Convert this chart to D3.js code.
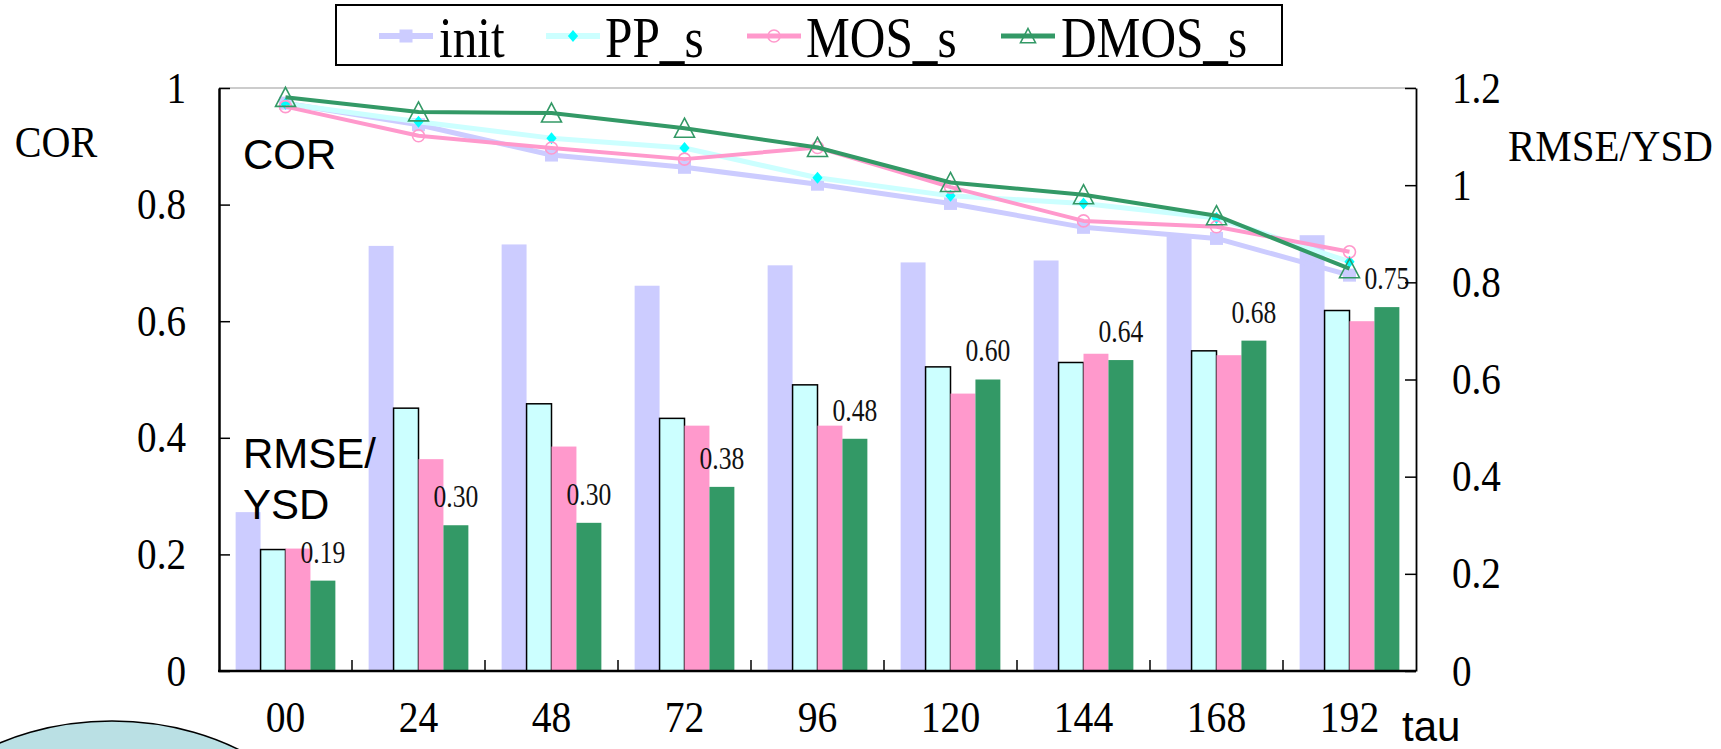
<!DOCTYPE html>
<html>
<head>
<meta charset="utf-8">
<script src="https://cdn.jsdelivr.net/npm/d3@7"></script>
<style>
  html, body { margin: 0; padding: 0; background: #ffffff; }
  svg { display: block; }
</style>
</head>
<body>
<script>
// ---------------- DATA ----------------
const categories = ["00", "24", "48", "72", "96", "120", "144", "168", "192"];
const seriesNames = ["init", "PP_s", "MOS_s", "DMOS_s"];

// RMSE/YSD bars (right axis)
const rmseInit = [0.327, 0.875, 0.878, 0.793, 0.835, 0.841, 0.845, 0.895, 0.897];
const rmsePP   = [0.250, 0.541, 0.550, 0.520, 0.589, 0.626, 0.635, 0.659, 0.742];
const rmseMOS  = [0.252, 0.436, 0.462, 0.505, 0.505, 0.571, 0.653, 0.650, 0.720];
const rmseDMOS = [0.186, 0.300, 0.305, 0.379, 0.478, 0.600, 0.640, 0.680, 0.749];
const dmosLabels = ["0.19", "0.30", "0.30", "0.38", "0.48", "0.60", "0.64", "0.68", "0.75"];

// COR lines (left axis)
const corInit = [0.974, 0.937, 0.885, 0.864, 0.835, 0.802, 0.761, 0.742, 0.679];
const corPP   = [0.973, 0.942, 0.914, 0.897, 0.846, 0.815, 0.802, 0.777, 0.702];
const corMOS  = [0.968, 0.918, 0.897, 0.878, 0.898, 0.830, 0.772, 0.762, 0.719];
const corDMOS = [0.984, 0.959, 0.957, 0.931, 0.898, 0.838, 0.817, 0.781, 0.690];

const corTicks = [0, 0.2, 0.4, 0.6, 0.8, 1];
const corTickLabels = ["0", "0.2", "0.4", "0.6", "0.8", "1"];
const rmseTicks = [0, 0.2, 0.4, 0.6, 0.8, 1, 1.2];
const rmseTickLabels = ["0", "0.2", "0.4", "0.6", "0.8", "1", "1.2"];

// ---------------- STYLE ----------------
const W = 1721, H = 749;
const plot = { left: 219, right: 1416, top: 88, bottom: 671 };
const serif = "'Liberation Serif', 'DejaVu Serif', serif";
const sans = "'Liberation Sans', Arial, sans-serif";
const colors = { init: "#CCCCFF", PP_s: "#CCFFFF", MOS_s: "#FF99CC", DMOS_s: "#339966" };
const markerColors = { init: "#CCCCFF", PP_s: "#00FFFF", MOS_s: "#FF99CC", DMOS_s: "#339966" };
const lineWidths = { init: 5, PP_s: 5, MOS_s: 4, DMOS_s: 4 };

const barData = { init: rmseInit, PP_s: rmsePP, MOS_s: rmseMOS, DMOS_s: rmseDMOS };
const lineData = { init: corInit, PP_s: corPP, MOS_s: corMOS, DMOS_s: corDMOS };

function squeeze(sel, sx) {
  sel.each(function () {
    const t = d3.select(this);
    const xx = +t.attr("x") || 0;
    t.attr("transform", `translate(${xx},0) scale(${sx},1) translate(${-xx},0)`);
  });
}

const svg = d3.select("body").append("svg").attr("width", W).attr("height", H);

// decorative shape bottom-left
svg.append("ellipse")
  .attr("cx", 112).attr("cy", 881).attr("rx", 222).attr("ry", 160)
  .attr("fill", "#BAE0E4").attr("stroke", "#000").attr("stroke-width", 1.5);

// ---------------- SCALES ----------------
const x = d3.scaleBand().domain(categories).range([plot.left, plot.right]);
const xs = d3.scaleBand().domain(seriesNames).range([0, x.bandwidth()])
  .paddingInner(0).paddingOuter(0.667);
const yL = d3.scaleLinear().domain([0, 1]).range([plot.bottom, plot.top]);
const yR = d3.scaleLinear().domain([0, 1.2]).range([plot.bottom, plot.top]);

// top border
svg.append("line")
  .attr("x1", plot.left).attr("x2", plot.right)
  .attr("y1", plot.top).attr("y2", plot.top)
  .attr("stroke", "#999").attr("stroke-width", 1.2);

// ---------------- BARS ----------------
seriesNames.forEach(s => {
  const data = categories.map((c, i) => ({ c, v: barData[s][i] }));
  svg.append("g").selectAll("rect").data(data).join("rect")
    .attr("x", d => x(d.c) + xs(s))
    .attr("y", d => yR(d.v))
    .attr("width", xs.bandwidth())
    .attr("height", d => yR(0) - yR(d.v))
    .attr("fill", colors[s])
    .attr("stroke", s === "PP_s" ? "#000" : "none")
    .attr("stroke-width", s === "PP_s" ? 1.5 : 0);
});

// DMOS value labels
const lbl = svg.append("g").selectAll("text")
  .data(categories.map((c, i) => ({ c, v: rmseDMOS[i], t: dmosLabels[i] })))
  .join("text")
  .attr("x", d => x(d.c) + xs("DMOS_s") + xs.bandwidth() / 2)
  .attr("y", d => yR(d.v) - 18)
  .attr("text-anchor", "middle")
  .attr("font-family", serif).attr("font-size", 32).attr("fill", "#111")
  .text(d => d.t);
squeeze(lbl, 0.8);

// ---------------- MARKERS ----------------
function drawMarker(g, s, cx, cy, scale = 1) {
  if (s === "init") {
    const a = 13 * scale;
    g.append("rect").attr("x", cx - a / 2).attr("y", cy - a / 2).attr("width", a).attr("height", a)
      .attr("fill", markerColors.init);
  } else if (s === "PP_s") {
    const r = 6 * scale;
    g.append("path").attr("d", `M${cx},${cy - r}L${cx + r * 0.85},${cy}L${cx},${cy + r}L${cx - r * 0.85},${cy}Z`)
      .attr("fill", markerColors.PP_s);
  } else if (s === "MOS_s") {
    g.append("circle").attr("cx", cx).attr("cy", cy).attr("r", 6 * scale)
      .attr("fill", "none").attr("stroke", markerColors.MOS_s).attr("stroke-width", 1.6);
  } else {
    const h = 10 * scale;
    g.append("path").attr("d", `M${cx},${cy - h}L${cx + h},${cy + h * 0.9}L${cx - h},${cy + h * 0.9}Z`)
      .attr("fill", "none").attr("stroke", markerColors.DMOS_s).attr("stroke-width", 1.6);
  }
}

// ---------------- LINES ----------------
const line = d3.line().x(d => x(d.c) + x.bandwidth() / 2).y(d => yL(d.v));
seriesNames.forEach(s => {
  const data = categories.map((c, i) => ({ c, v: lineData[s][i] }));
  const g = svg.append("g");
  g.append("path").datum(data).attr("d", line)
    .attr("fill", "none").attr("stroke", colors[s]).attr("stroke-width", lineWidths[s])
    .attr("stroke-linejoin", "round");
  data.forEach(d => drawMarker(g, s, x(d.c) + x.bandwidth() / 2, yL(d.v)));
});

// ---------------- AXES ----------------
const axL = svg.append("g").attr("transform", `translate(${plot.left},0)`)
  .call(d3.axisLeft(yL).tickValues(corTicks).tickFormat((d, i) => corTickLabels[i])
    .tickSizeInner(-11).tickSizeOuter(0).tickPadding(33));
axL.select(".domain").attr("stroke", "#000").attr("stroke-width", 2.5);
axL.selectAll(".tick line").attr("stroke", "#000").attr("stroke-width", 1.5);
axL.selectAll("text").attr("font-family", serif).attr("font-size", 44).attr("fill", "#000");
squeeze(axL.selectAll("text"), 0.89);

const axR = svg.append("g").attr("transform", `translate(${plot.right},0)`)
  .call(d3.axisRight(yR).tickValues(rmseTicks).tickFormat((d, i) => rmseTickLabels[i])
    .tickSizeInner(-11).tickSizeOuter(0).tickPadding(36));
axR.select(".domain").attr("stroke", "#000").attr("stroke-width", 1.8);
axR.selectAll(".tick line").attr("stroke", "#000").attr("stroke-width", 1.5);
axR.selectAll("text").attr("font-family", serif).attr("font-size", 44).attr("fill", "#000");
squeeze(axR.selectAll("text"), 0.89);

// bottom axis
svg.append("line")
  .attr("x1", plot.left - 1).attr("x2", plot.right)
  .attr("y1", plot.bottom).attr("y2", plot.bottom)
  .attr("stroke", "#000").attr("stroke-width", 2.5);
svg.append("g").selectAll("line").data(categories.slice(1)).join("line")
  .attr("x1", d => x(d)).attr("x2", d => x(d))
  .attr("y1", plot.bottom).attr("y2", plot.bottom - 11)
  .attr("stroke", "#000").attr("stroke-width", 1.5);
const catText = svg.append("g").selectAll("text").data(categories).join("text")
  .attr("x", d => x(d) + x.bandwidth() / 2).attr("y", 732)
  .attr("text-anchor", "middle")
  .attr("font-family", serif).attr("font-size", 44).attr("fill", "#000")
  .text(d => d);
squeeze(catText, 0.9);

// ---------------- TITLES ----------------
const t1 = svg.append("text").attr("x", 56).attr("y", 157).attr("text-anchor", "middle")
  .attr("font-family", serif).attr("font-size", 45).attr("fill", "#000").text("COR");
squeeze(t1, 0.89);
const t2 = svg.append("text").attr("x", 1508).attr("y", 161).attr("text-anchor", "start")
  .attr("font-family", serif).attr("font-size", 45).attr("fill", "#000").text("RMSE/YSD");
squeeze(t2, 0.91);

svg.append("text").attr("x", 243).attr("y", 169)
  .attr("font-family", sans).attr("font-size", 42).attr("fill", "#000").text("COR");
svg.append("text").attr("x", 243).attr("y", 468)
  .attr("font-family", sans).attr("font-size", 42).attr("fill", "#000").text("RMSE/");
svg.append("text").attr("x", 243).attr("y", 519)
  .attr("font-family", sans).attr("font-size", 42).attr("fill", "#000").text("YSD");
svg.append("text").attr("x", 1402).attr("y", 741)
  .attr("font-family", sans).attr("font-size", 42).attr("fill", "#000").text("tau");

// ---------------- LEGEND ----------------
const leg = svg.append("g");
leg.append("rect").attr("x", 336).attr("y", 5).attr("width", 946).attr("height", 60)
  .attr("fill", "#fff").attr("stroke", "#000").attr("stroke-width", 2);
const legX = [379, 546, 747, 1001];
const legTextX = [439, 605, 806, 1061];
seriesNames.forEach((s, i) => {
  const g = leg.append("g");
  g.append("line").attr("x1", legX[i]).attr("x2", legX[i] + 54).attr("y1", 36).attr("y2", 36)
    .attr("stroke", colors[s]).attr("stroke-width", s === "init" || s === "PP_s" ? 6 : 5);
  drawMarker(g, s, legX[i] + 27, 36, s === "DMOS_s" ? 0.75 : 1);
  const tx = g.append("text").attr("x", legTextX[i]).attr("y", 57)
    .attr("font-family", serif).attr("font-size", 56).attr("fill", "#000").text(s);
  squeeze(tx, 0.88);
});
</script>
</body>
</html>
